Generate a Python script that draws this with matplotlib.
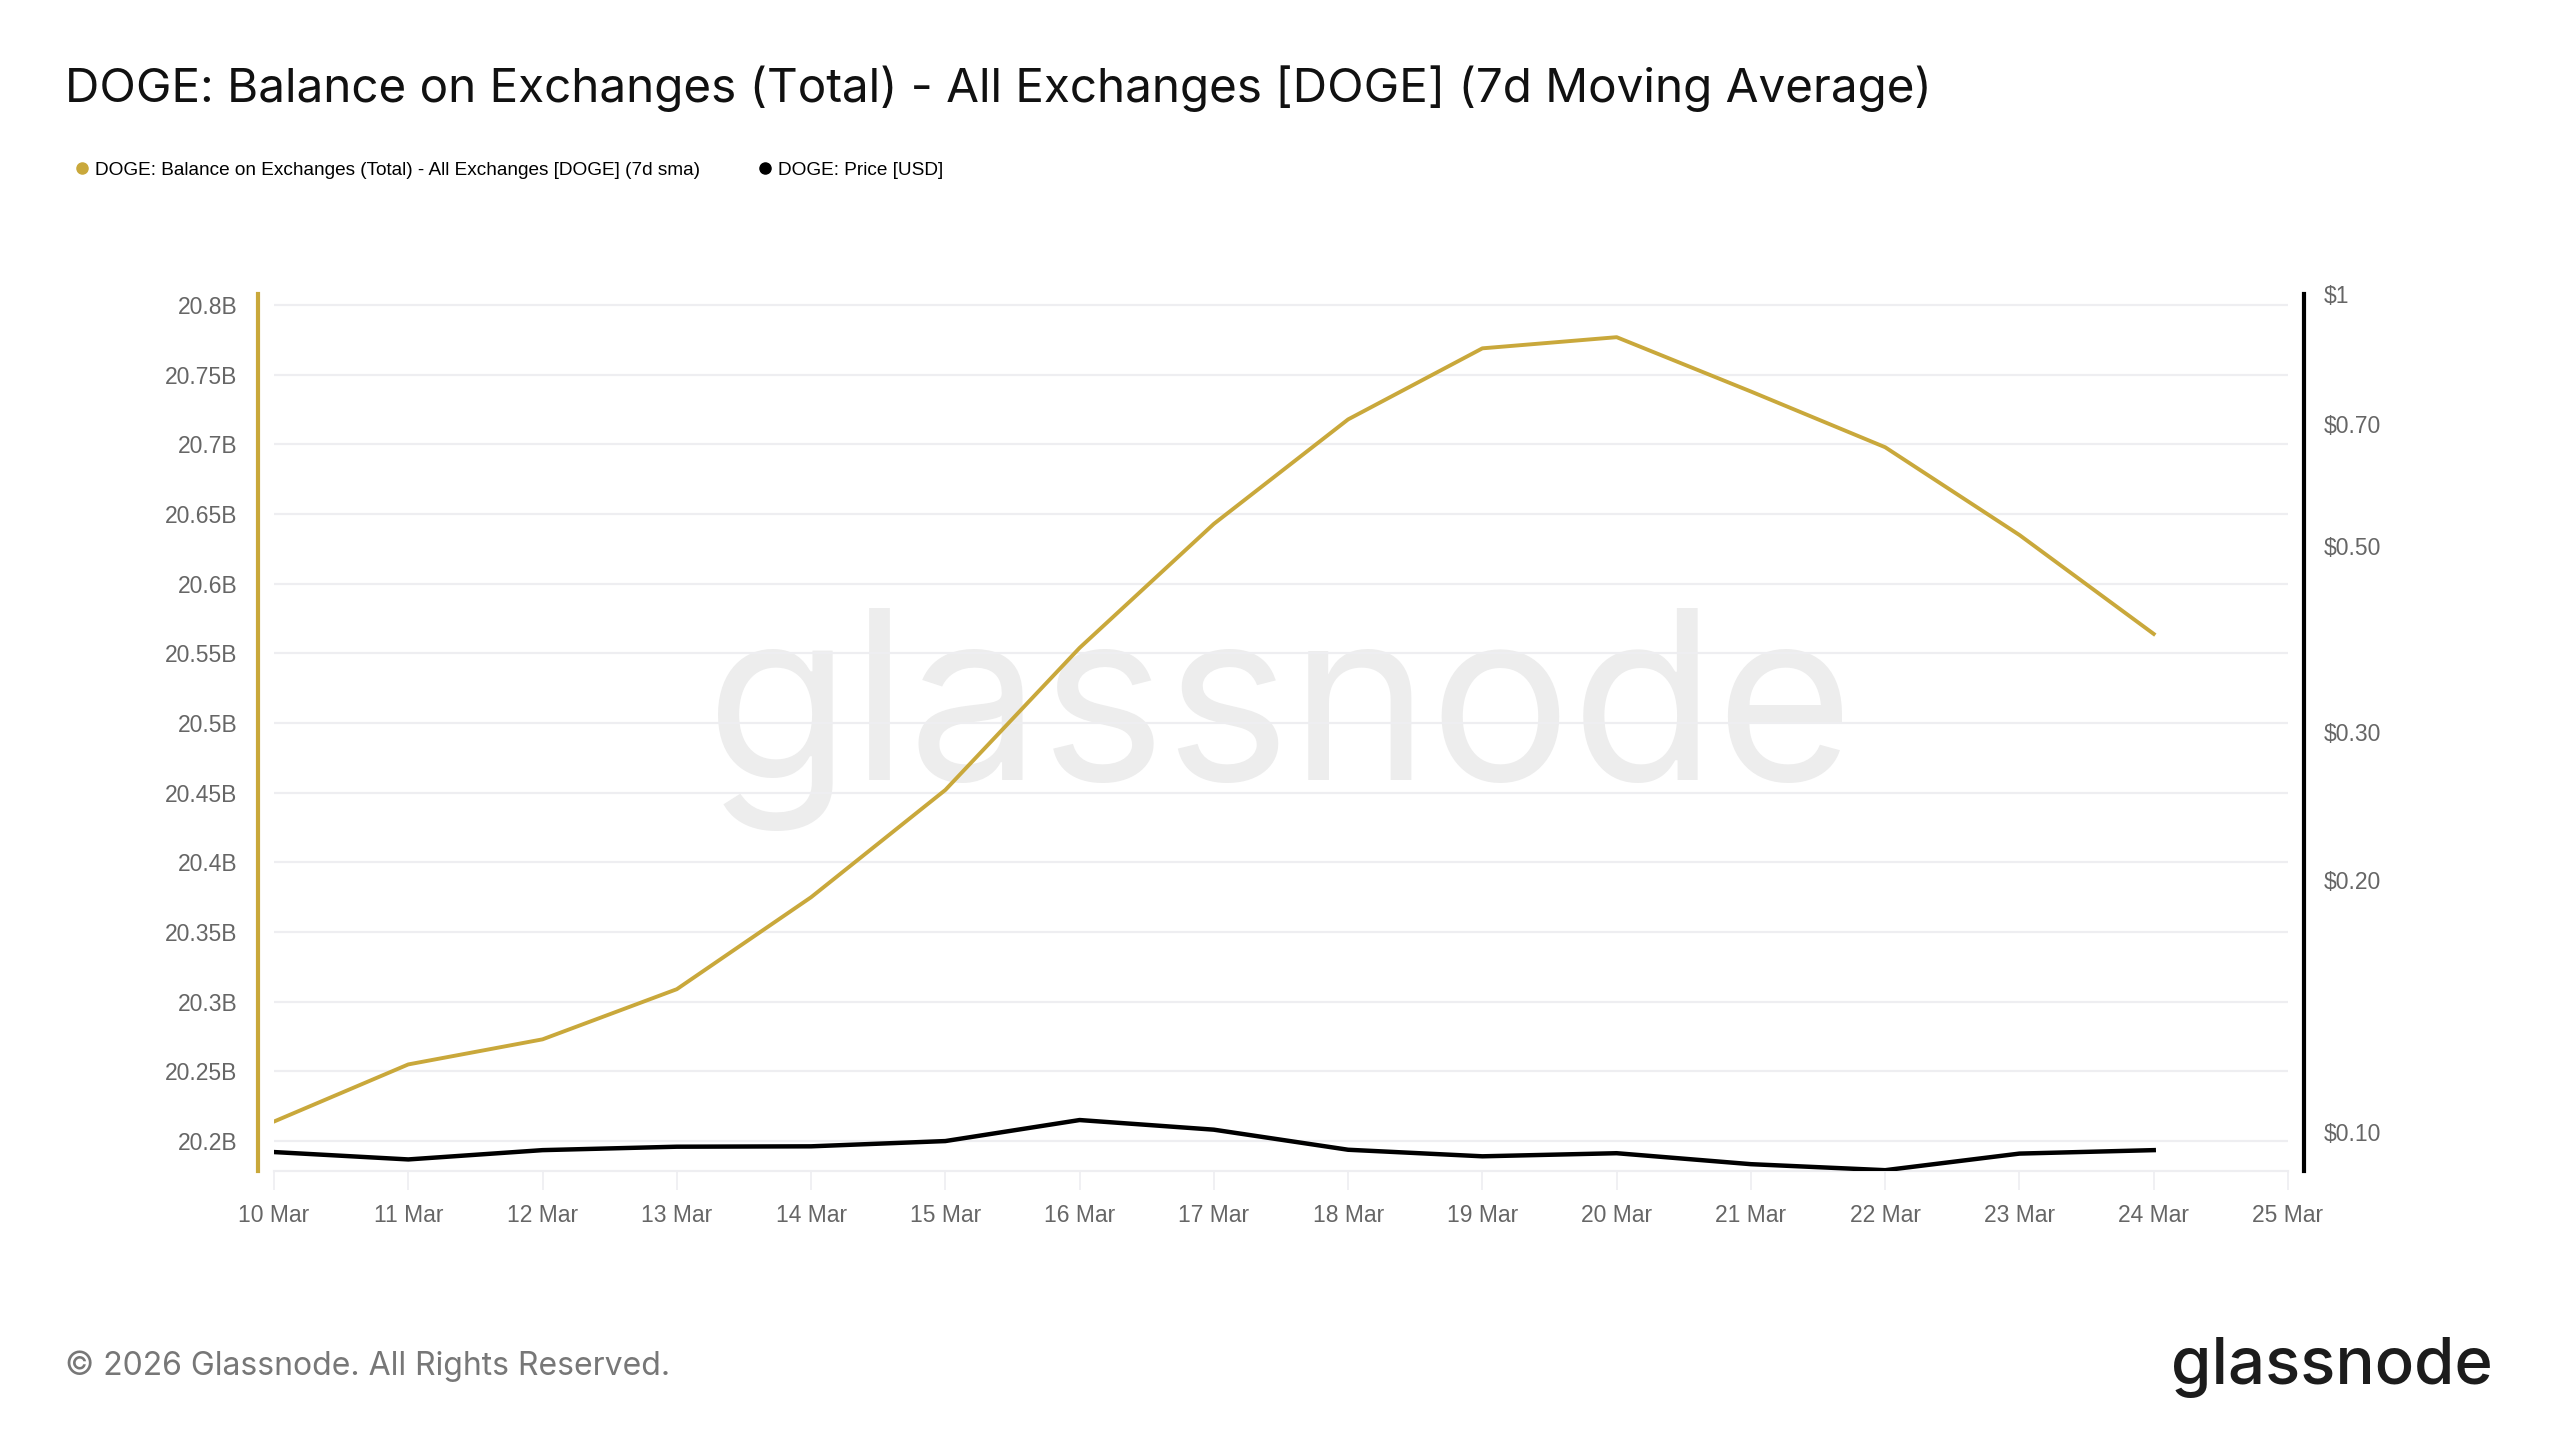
import matplotlib
matplotlib.use("Agg")
import matplotlib.pyplot as plt
import matplotlib.dates as mdates
from matplotlib.lines import Line2D
from matplotlib.ticker import FixedLocator, FixedFormatter
import pandas as pd

# data
dates = ["2026-03-10", "2026-03-11", "2026-03-12", "2026-03-13", "2026-03-14",
         "2026-03-15", "2026-03-16", "2026-03-17", "2026-03-18", "2026-03-19",
         "2026-03-20", "2026-03-21", "2026-03-22", "2026-03-23", "2026-03-24"]
balance_b = [20.214, 20.255, 20.273, 20.309, 20.375, 20.452, 20.554, 20.643,
             20.718, 20.769, 20.777, 20.738, 20.698, 20.635, 20.564]
price_usd = [0.0946, 0.0927, 0.0951, 0.0960, 0.0961, 0.0975, 0.1033, 0.1006,
             0.0952, 0.0935, 0.0943, 0.0915, 0.0900, 0.0942, 0.0951]

left_ticks = [20.2, 20.25, 20.3, 20.35, 20.4, 20.45, 20.5, 20.55, 20.6, 20.65, 20.7, 20.75, 20.8]
left_labels = ["20.2B", "20.25B", "20.3B", "20.35B", "20.4B", "20.45B", "20.5B",
               "20.55B", "20.6B", "20.65B", "20.7B", "20.75B", "20.8B"]
right_ticks = [0.1, 0.2, 0.3, 0.5, 0.7, 1.0]
right_labels = ["$0.10", "$0.20", "$0.30", "$0.50", "$0.70", "$1"]

title = "DOGE: Balance on Exchanges (Total) - All Exchanges [DOGE] (7d Moving Average)"
lbl_balance = "DOGE: Balance on Exchanges (Total) - All Exchanges [DOGE] (7d sma)"
lbl_price = "DOGE: Price [USD]"

GOLD = "#c9a83b"
GRID = "#eeeef1"
TICK = "#666666"

x = pd.to_datetime(dates)

fig = plt.figure(figsize=(25.6, 14.4), dpi=100)
fig.patch.set_facecolor("white")
ax = fig.add_axes([274 / 2560, 1 - 1171 / 1440, (2288 - 274) / 2560, (1171 - 294) / 1440])
ax2 = ax.twinx()

# watermark
ax.text(0.4995, 0.515, "glassnode", transform=ax.transAxes, ha="center", va="center",
        fontsize=170, color="#ededed", family="Inter", zorder=0.5)

ax.plot(x, balance_b, color=GOLD, lw=2.8, zorder=3)
ax2.plot(x, price_usd, color="black", lw=3.2, zorder=3)

ax.set_xlim(pd.Timestamp("2026-03-10"), pd.Timestamp("2026-03-25"))
ax.set_ylim(20.1785, 20.808)
ax2.set_yscale("log")
ax2.set_ylim(0.0898, 1.0)

ax.yaxis.set_major_locator(FixedLocator(left_ticks))
ax.yaxis.set_major_formatter(FixedFormatter(left_labels))
ax2.yaxis.set_major_locator(FixedLocator(right_ticks))
ax2.yaxis.set_major_formatter(FixedFormatter(right_labels))
ax2.yaxis.set_minor_locator(FixedLocator([]))

ax.xaxis.set_major_locator(mdates.DayLocator())
ax.xaxis.set_major_formatter(mdates.DateFormatter("%-d %b"))

ax.yaxis.grid(True, color=GRID, lw=1.6)
ax.set_axisbelow(True)

for s in ["top", "right"]:
    ax.spines[s].set_visible(False)
ax.spines["left"].set_position(("outward", 11.5))
ax.spines["left"].set_color(GOLD)
ax.spines["left"].set_linewidth(3)
ax.spines["bottom"].set_color(GRID)
ax.spines["bottom"].set_linewidth(1.6)

for s in ["top", "left", "bottom"]:
    ax2.spines[s].set_visible(False)
ax2.spines["right"].set_position(("outward", 11.5))
ax2.spines["right"].set_color("black")
ax2.spines["right"].set_linewidth(3)

ax.tick_params(axis="y", length=0, pad=15, labelsize=16.5, labelcolor=TICK)
ax2.tick_params(axis="y", which="both", length=0, pad=14, labelsize=16.5, labelcolor=TICK)
ax.tick_params(axis="x", length=14, width=1.2, color=GRID, pad=9.5, labelsize=16.5, labelcolor=TICK)
for lab in ax.get_xticklabels() + ax.get_yticklabels() + ax2.get_yticklabels():
    lab.set_family("Liberation Sans")

fig.text(65 / 2560, 1 - 89 / 1440, title, fontsize=34.3, family="Inter", color="#111111", va="center")

handles = [Line2D([], [], ls="", marker="o", ms=8, color=GOLD),
           Line2D([], [], ls="", marker="o", ms=8, color="black")]
fig.legend(handles, [lbl_balance, lbl_price], loc="center left",
           bbox_to_anchor=(74 / 2560, 1 - 170 / 1440), ncol=2, frameon=False,
           handlelength=0.8, handletextpad=0.3, columnspacing=3.0,
           prop={"family": "Liberation Sans", "size": 13.7}, borderpad=0, borderaxespad=0)

fig.text(65 / 2560, 1 - 1366 / 1440, "© 2026 Glassnode. All Rights Reserved.",
         fontsize=23, family="Inter", color="#777777", va="center")
fig.text(2493 / 2560, 1 - 1367 / 1440, "glassnode", fontsize=47, family="Inter",
         weight="medium", color="#1c1c1c", ha="right", va="center")

fig.savefig("out.png", dpi=100, facecolor="white")
